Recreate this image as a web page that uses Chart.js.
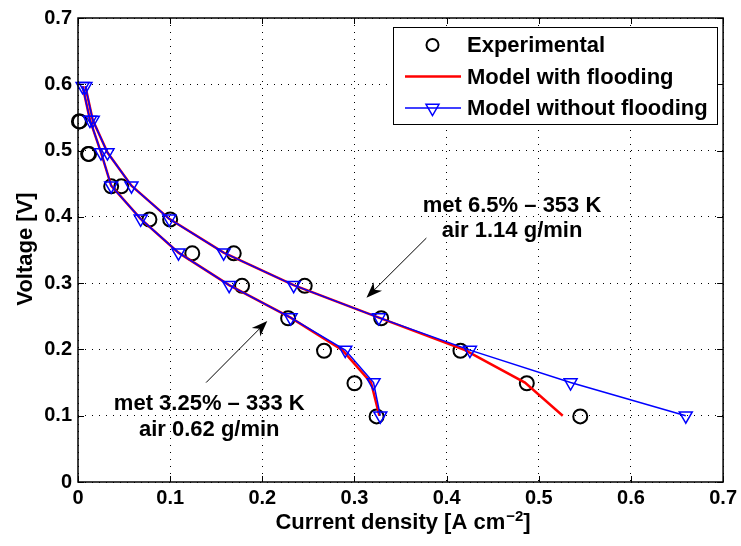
<!DOCTYPE html>
<html>
<head>
<meta charset="utf-8">
<script src="https://cdn.jsdelivr.net/npm/chart.js@4.4.0/dist/chart.umd.min.js"></script>
<style>
  body { margin: 0; background: #fff; }
  canvas { display: block; }
</style>
</head>
<body>
<canvas id="mycanvas" width="741" height="546"></canvas>
<script>
// series names (legend order)
var seriesNames = ['Experimental', 'Model with flooding', 'Model without flooding'];

// experimental points (voltage levels shared by both runs)
var expV     = [0.544, 0.495, 0.446, 0.396, 0.345, 0.296, 0.247, 0.198, 0.149, 0.099];
var expI_353 = [0.002, 0.012, 0.047, 0.100, 0.169, 0.246, 0.329, 0.415, 0.487, 0.545];
var expI_333 = [0.001, 0.011, 0.036, 0.0775, 0.124, 0.178, 0.228, 0.267, 0.300, 0.324];

// model curves
var modelV       = [0.597, 0.546, 0.497, 0.447, 0.397, 0.346, 0.297, 0.248, 0.199, 0.150, 0.100];
var noFloodI_353 = [0.008, 0.016, 0.032, 0.058, 0.099, 0.158, 0.234, 0.3265, 0.4253, 0.5345, 0.6595];
var noFloodI_333 = [0.005, 0.013, 0.025, 0.036, 0.068, 0.109, 0.164, 0.2307, 0.290, 0.3207, 0.328];
var floodI_353   = [0.008, 0.016, 0.032, 0.058, 0.099, 0.158, 0.234, 0.3265, 0.420, 0.485, 0.526];
var floodI_333   = [0.005, 0.013, 0.025, 0.036, 0.068, 0.109, 0.164, 0.2307, 0.287, 0.318, 0.327];

// axis ticks
var tickValues = [0, 0.1, 0.2, 0.3, 0.4, 0.5, 0.6, 0.7];
var tickLabels = ['0', '0.1', '0.2', '0.3', '0.4', '0.5', '0.6', '0.7'];

// text notes with arrows (data coordinates)
var noteText = [['met 6.5% \u2013 353 K', 'air 1.14 g/min'], ['met 3.25% \u2013 333 K', 'air 0.62 g/min']];
var noteX = [0.471, 0.1424];
var noteY = [[0.407, 0.369], [0.108, 0.070]];
var arrowFrom = [[0.378, 0.368], [0.139, 0.150]];
var arrowTo   = [[0.313, 0.278], [0.2054, 0.243]];

var FONT = '"Liberation Sans", Arial, Helvetica, sans-serif';

function pts(xs, ys) {
  var out = [];
  for (var i = 0; i < xs.length; i++) out.push({x: xs[i], y: ys[i]});
  return out;
}

function expSet(xs) {
  return {
    label: seriesNames[0], data: pts(xs, expV), showLine: false, clip: false,
    pointStyle: 'circle', pointRadius: 7, pointBorderWidth: 2,
    pointBorderColor: '#000', pointBackgroundColor: 'rgba(0,0,0,0)', order: 2
  };
}
function floodSet(xs) {
  return {
    label: seriesNames[1], data: pts(xs, modelV), showLine: true, clip: false,
    borderColor: '#ff0000', borderWidth: 2.5, pointRadius: 0, tension: 0, order: 1
  };
}
function noFloodSet(xs) {
  return {
    label: seriesNames[2], data: pts(xs, modelV), showLine: true, clip: false,
    borderColor: '#0000ff', borderWidth: 1.5, tension: 0,
    pointStyle: 'triangle', pointRotation: 180, pointRadius: 7.5, pointBorderWidth: 1.5,
    pointBorderColor: '#0000ff', pointBackgroundColor: 'rgba(0,0,0,0)', order: 0
  };
}

function drawTriangle(ctx, x, y, r) {
  ctx.beginPath();
  for (var k = 0; k < 3; k++) {
    var a = Math.PI + k * 2 * Math.PI / 3;
    var px = x + Math.sin(a) * r, py = y - Math.cos(a) * r;
    if (k === 0) ctx.moveTo(px, py); else ctx.lineTo(px, py);
  }
  ctx.closePath();
  ctx.stroke();
}

function drawArrow(ctx, x0, y0, x1, y1) {
  var dx = x1 - x0, dy = y1 - y0, len = Math.sqrt(dx * dx + dy * dy);
  var ux = dx / len, uy = dy / len, nx = -uy, ny = ux;
  var L = 16, W = 6;
  ctx.lineWidth = 1;
  ctx.beginPath();
  ctx.moveTo(x0, y0);
  ctx.lineTo(x1 - ux * L * 0.6, y1 - uy * L * 0.6);
  ctx.stroke();
  ctx.beginPath();
  ctx.moveTo(x1, y1);
  ctx.lineTo(x1 - ux * L + nx * W, y1 - uy * L + ny * W);
  ctx.lineTo(x1 - ux * L * 0.7, y1 - uy * L * 0.7);
  ctx.lineTo(x1 - ux * L - nx * W, y1 - uy * L - ny * W);
  ctx.closePath();
  ctx.fill();
}

var extras = {
  id: 'extras',
  afterDatasetsDraw: function(chart) {
    var ctx = chart.ctx, xs = chart.scales.x, ys = chart.scales.y, a = chart.chartArea;
    ctx.save();

    // notes + arrows
    ctx.fillStyle = '#000';
    ctx.strokeStyle = '#000';
    ctx.font = 'bold 22px ' + FONT;
    ctx.textAlign = 'center';
    ctx.textBaseline = 'alphabetic';
    for (var n = 0; n < noteText.length; n++) {
      for (var k = 0; k < noteText[n].length; k++) {
        ctx.fillText(noteText[n][k], xs.getPixelForValue(noteX[n]), ys.getPixelForValue(noteY[n][k]));
      }
      drawArrow(ctx,
        xs.getPixelForValue(arrowFrom[n][0]), ys.getPixelForValue(arrowFrom[n][1]),
        xs.getPixelForValue(arrowTo[n][0]), ys.getPixelForValue(arrowTo[n][1]));
    }

    // legend box
    var lx = 393.5, ly = 27.5, lw = 324, lh = 97;
    ctx.fillStyle = '#fff';
    ctx.fillRect(lx, ly, lw, lh);
    ctx.lineWidth = 1;
    ctx.strokeStyle = '#000';
    ctx.strokeRect(lx, ly, lw, lh);
    var rows = [45, 76.5, 108];
    // experimental
    ctx.lineWidth = 2;
    ctx.beginPath();
    ctx.arc(432.5, rows[0], 6, 0, Math.PI * 2);
    ctx.stroke();
    // flooding
    ctx.strokeStyle = '#ff0000';
    ctx.lineWidth = 2.5;
    ctx.beginPath(); ctx.moveTo(405, rows[1]); ctx.lineTo(461, rows[1]); ctx.stroke();
    // without flooding
    ctx.strokeStyle = '#0000ff';
    ctx.lineWidth = 1.5;
    ctx.beginPath(); ctx.moveTo(405, rows[2]); ctx.lineTo(461, rows[2]); ctx.stroke();
    drawTriangle(ctx, 432.5, rows[2], 7.5);
    ctx.fillStyle = '#000';
    ctx.textAlign = 'left';
    ctx.textBaseline = 'middle';
    for (var r = 0; r < rows.length; r++) ctx.fillText(seriesNames[r], 467, rows[r] + 1);

    // axes box with inward ticks
    ctx.strokeStyle = '#000';
    ctx.lineWidth = 1.5;
    ctx.strokeRect(a.left, a.top, a.right - a.left, a.bottom - a.top);
    ctx.lineWidth = 1;
    ctx.beginPath();
    for (var t = 0; t < tickValues.length; t++) {
      var px = Math.round(xs.getPixelForValue(tickValues[t])) + 0.5;
      ctx.moveTo(px, a.bottom); ctx.lineTo(px, a.bottom - 6);
      ctx.moveTo(px, a.top); ctx.lineTo(px, a.top + 6);
      var py = Math.round(ys.getPixelForValue(tickValues[t])) + 0.5;
      ctx.moveTo(a.left, py); ctx.lineTo(a.left + 6, py);
      ctx.moveTo(a.right, py); ctx.lineTo(a.right - 6, py);
    }
    ctx.stroke();

    // axis titles
    ctx.fillStyle = '#000';
    ctx.textBaseline = 'alphabetic';
    ctx.font = 'bold 22px ' + FONT;
    var main = 'Current density [A cm', sup = '\u22122', tail = ']';
    var w1 = ctx.measureText(main).width, w3 = ctx.measureText(tail).width;
    ctx.font = 'bold 15px ' + FONT;
    var w2 = ctx.measureText(sup).width;
    var x0 = (a.left + a.right) / 2 - (w1 + w2 + w3) / 2 + 2;
    ctx.textAlign = 'left';
    ctx.font = 'bold 22px ' + FONT;
    ctx.fillText(main, x0, 529);
    ctx.font = 'bold 15px ' + FONT;
    ctx.fillText(sup, x0 + w1 + 1, 521);
    ctx.font = 'bold 22px ' + FONT;
    ctx.fillText(tail, x0 + w1 + w2 + 1, 529);

    ctx.translate(32, 249);
    ctx.rotate(-Math.PI / 2);
    ctx.textAlign = 'center';
    ctx.fillText('Voltage [V]', 0, 0);

    ctx.restore();
  }
};

var axisOpts = function(isY) {
  return {
    type: 'linear', min: 0, max: 0.7,
    afterBuildTicks: function(scale) {
      scale.ticks = tickValues.map(function(v) { return {value: v}; });
    },
    afterFit: function(scale) {
      if (isY) scale.width = 78; else scale.height = 64;
    },
    grid: { color: '#000', lineWidth: 1, drawTicks: false },
    border: { display: false, dash: [1, 6] },
    ticks: {
      color: '#000', padding: isY ? 6 : 4,
      font: { family: FONT, size: 20, weight: 'bold' },
      callback: function(v, i) { return tickLabels[i]; }
    }
  };
};

var ctx = document.getElementById('mycanvas');
var chart = new Chart(ctx, {
  type: 'scatter',
  data: {
    datasets: [
      expSet(expI_353), expSet(expI_333),
      floodSet(floodI_353), floodSet(floodI_333),
      noFloodSet(noFloodI_353), noFloodSet(noFloodI_333)
    ]
  },
  options: {
    responsive: false,
    animation: false,
    layout: { padding: { left: 0, top: 16, right: 15, bottom: 0 } },
    plugins: { legend: { display: false }, tooltip: { enabled: false } },
    scales: { x: axisOpts(false), y: axisOpts(true) }
  },
  plugins: [extras]
});
</script>
</body>
</html>
